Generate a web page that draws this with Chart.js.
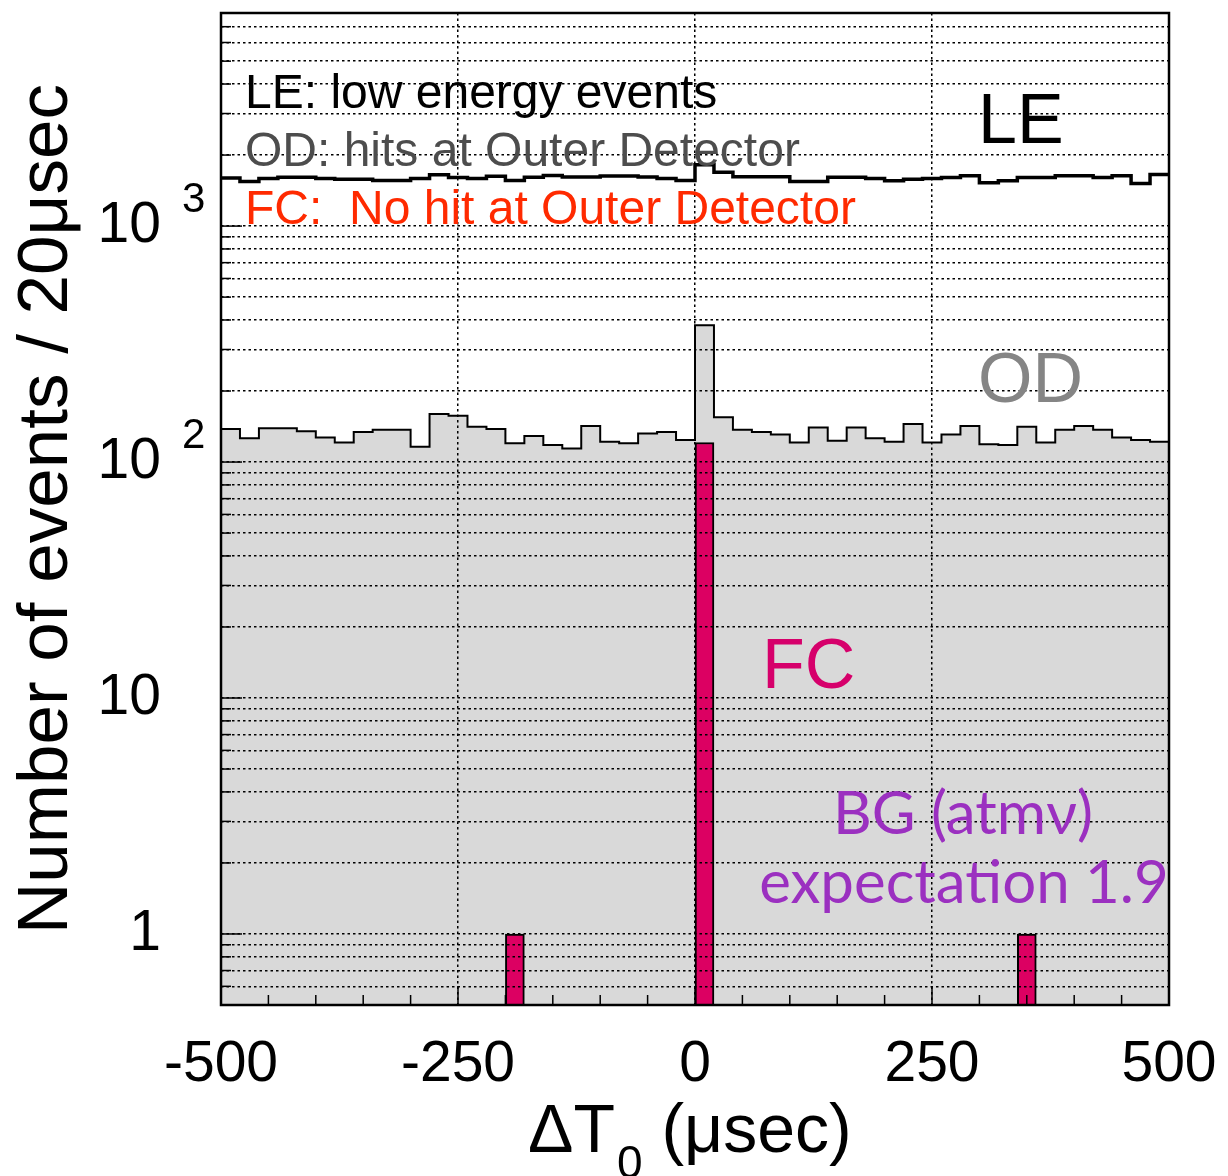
<!DOCTYPE html>
<html><head><meta charset="utf-8">
<script src="https://cdn.jsdelivr.net/npm/chart.js@4.4.1/dist/chart.umd.min.js"></script>
<style>html,body{margin:0;padding:0;background:#fff;}#c{display:block;}</style>
</head><body>
<canvas id="c" width="1228" height="1176"></canvas>
<script>
// ---- data (bins of 20 usec) ----
const binLowEdges = [-500,-480,-460,-440,-420,-400,-380,-360,-340,-320,-300,-280,-260,-240,-220,-200,-180,-160,-140,-120,-100,-80,-60,-40,-20,
                     0,20,40,60,80,100,120,140,160,180,200,220,240,260,280,300,320,340,360,380,400,420,440,460,480];
const binWidth = 20;
const leCounts = [1600,1545,1590,1610,1610,1590,1580,1580,1560,1560,1590,1650,1605,1590,1625,1560,1610,1640,1615,1615,1630,1630,1615,1592,1560,
                  1820,1690,1620,1620,1620,1545,1545,1612,1612,1592,1555,1580,1590,1607,1633,1525,1555,1607,1607,1633,1633,1607,1633,1515,1656];
const odCounts = [138,126,139,139,135,127,121,134,137,137,116,160,157,141,138,120,129,118,114,142,122,120,132,134,124,
                  380,155,137,134,131,121,140,123,140,126,122,145,121,131,142,119,118,141,121,137,142,137,127,124,122];
const fcCounts = [0,0,0,0,0,0,0,0,0,0,0,0,0,0,0,1,0,0,0,0,0,0,0,0,0,
                  121,0,0,0,0,0,0,0,0,0,0,0,0,0,0,0,0,1,0,0,0,0,0,0,0];
const xTickValues = [-500,-450,-400,-350,-300,-250,-200,-150,-100,-50,0,50,100,150,200,250,300,350,400,450,500];
const xLabelValues = [-500,-250,0,250,500];
const xLabelTexts = ['-500','-250','0','250','500'];
const xGridValues = [-250,0,250];
const yLabelValues = [1,10,100,1000];
const yLabelTexts = ['1','10','10','10'];
const yLabelExps = ['','','2','3'];

const FONT = "'Liberation Sans', Arial, Helvetica, sans-serif";

function stepPoints(counts){
  const pts = binLowEdges.map((x,i)=>({x:x, y:counts[i]}));
  pts.push({x: binLowEdges[binLowEdges.length-1] + binWidth, y: counts[counts.length-1]});
  return pts;
}
const fcData = binLowEdges.map((x,i)=>({x: x + binWidth/2, y: fcCounts[i]}));

const overlay = {
  id:'overlay',
  afterDraw(chart){
    const ctx = chart.ctx, a = chart.chartArea;
    const xs = chart.scales.x, ys = chart.scales.y;
    ctx.save();
    // inner tick marks
    ctx.strokeStyle = '#000'; ctx.lineWidth = 1.5;
    ys.ticks.forEach(t=>{
      const py = ys.getPixelForValue(t.value);
      const major = yLabelValues.indexOf(t.value) >= 0;
      ctx.beginPath(); ctx.moveTo(a.left, py); ctx.lineTo(a.left + (major?21:10), py); ctx.stroke();
    });
    xs.ticks.forEach(t=>{
      const px = xs.getPixelForValue(t.value);
      const major = t.value % 250 === 0;
      ctx.beginPath(); ctx.moveTo(px, a.bottom); ctx.lineTo(px, a.bottom - (major?19:10)); ctx.stroke();
    });
    // frame
    ctx.lineWidth = 2.5;
    ctx.strokeRect(a.left, a.top, a.right - a.left, a.bottom - a.top);
    // superscript exponents on y labels
    ctx.fillStyle = '#000';
    ctx.font = '42px ' + FONT;
    ctx.textAlign = 'left'; ctx.textBaseline = 'middle';
    yLabelValues.forEach((v,i)=>{
      if (!yLabelExps[i]) return;
      ctx.fillText(yLabelExps[i], 182, ys.getPixelForValue(v) - 26);
    });
    // x axis title: ΔT0 (μsec) with subscript
    ctx.textBaseline = 'alphabetic';
    ctx.font = '68px ' + FONT;
    let x0 = 528, by = 1152;
    ctx.fillText('ΔT', x0, by);
    x0 += ctx.measureText('ΔT').width + 2;
    ctx.font = '46px ' + FONT;
    ctx.fillText('0', x0, by + 26);
    x0 += ctx.measureText('0').width;
    ctx.font = '68px ' + FONT;
    ctx.fillText(' (μsec)', x0, by);
    // legend-like texts
    ctx.font = '48px ' + FONT;
    ctx.fillStyle = '#000'; ctx.fillText('LE: low energy events', 245, 108);
    ctx.fillStyle = '#4d4d4d'; ctx.fillText('OD: hits at Outer Detector', 245, 166);
    ctx.fillStyle = '#ff2a00'; ctx.fillText('FC:  No hit at Outer Detector', 245, 224);
    // big labels
    ctx.font = '70px ' + FONT;
    ctx.fillStyle = '#000'; ctx.fillText('LE', 978, 143);
    ctx.fillStyle = '#858585'; ctx.fillText('OD', 978, 402);
    ctx.fillStyle = '#d6006b'; ctx.fillText('FC', 762, 688);
    ctx.font = "60px Lato, 'Open Sans', sans-serif";
    ctx.fillStyle = '#9b30c0'; ctx.textAlign = 'center';
    ctx.fillText('BG (atmν)', 963, 834);
    ctx.fillText('expectation 1.9', 964, 903);
    ctx.restore();
  }
};

new Chart(document.getElementById('c'), {
  type:'line',
  data:{ datasets:[
    {type:'bar', label:'FC', data:fcData, backgroundColor:'#dc0062', borderColor:'#000', borderWidth:2,
     barPercentage:1, categoryPercentage:1, grouped:false, order:1},
    {label:'LE', data:stepPoints(leCounts), stepped:true, borderColor:'#000', borderWidth:3.5,
     pointRadius:0, fill:false, order:2},
    {label:'OD', data:stepPoints(odCounts), stepped:true, borderColor:'#000', borderWidth:2,
     backgroundColor:'#d9d9d9', pointRadius:0, fill:'start', order:3}
  ]},
  options:{
    responsive:false, animation:false, devicePixelRatio:1,
    layout:{padding:{top:13,right:59,left:0,bottom:0}},
    plugins:{legend:{display:false}, tooltip:{enabled:false}},
    scales:{
      x:{type:'linear', min:-500, max:500, offset:false,
        afterBuildTicks:s=>{ s.ticks = xTickValues.map(v=>({value:v})); },
        afterFit:s=>{ s.height = 171; s.paddingLeft = 0; s.paddingRight = 0; },
        grid:{ z:1, offset:false, color:c=> (c.tick && xGridValues.indexOf(c.tick.value)>=0) ? '#000' : 'rgba(0,0,0,0)', lineWidth:1.5, drawTicks:false },
        border:{display:false, dash:[2.5,3]},
        ticks:{ autoSkip:false, maxRotation:0, padding:26, color:'#000', font:{family:FONT, size:57},
          callback:v=>{ const i = xLabelValues.indexOf(v); return i>=0 ? xLabelTexts[i] : ''; } }
      },
      y:{type:'logarithmic', min:0.5, max:8000,
        afterBuildTicks:s=>{
          const t = [];
          for (let k=6;k<=9;k++) t.push({value:k/10});
          for (let d=1; d<=1000; d*=10) for (let k=1;k<=9;k++){ const v=k*d; if (v<=8000) t.push({value:v}); }
          s.ticks = t;
        },
        afterFit:s=>{ s.width = 221; s.paddingTop = 0; s.paddingBottom = 0; },
        grid:{ z:1, color:'#000', lineWidth:1.5, drawTicks:false },
        border:{display:false, dash:[2.5,3]},
        ticks:{ autoSkip:false, padding:60, color:'#000', font:{family:FONT, size:57},
          callback:v=>{ const i = yLabelValues.indexOf(v); return i>=0 ? yLabelTexts[i] : ''; } },
        title:{display:true, text:'Number of events / 20μsec', color:'#000', font:{family:FONT, size:71}, padding:{top:5,bottom:0}}
      }
    }
  },
  plugins:[overlay]
});
</script>
</body></html>
